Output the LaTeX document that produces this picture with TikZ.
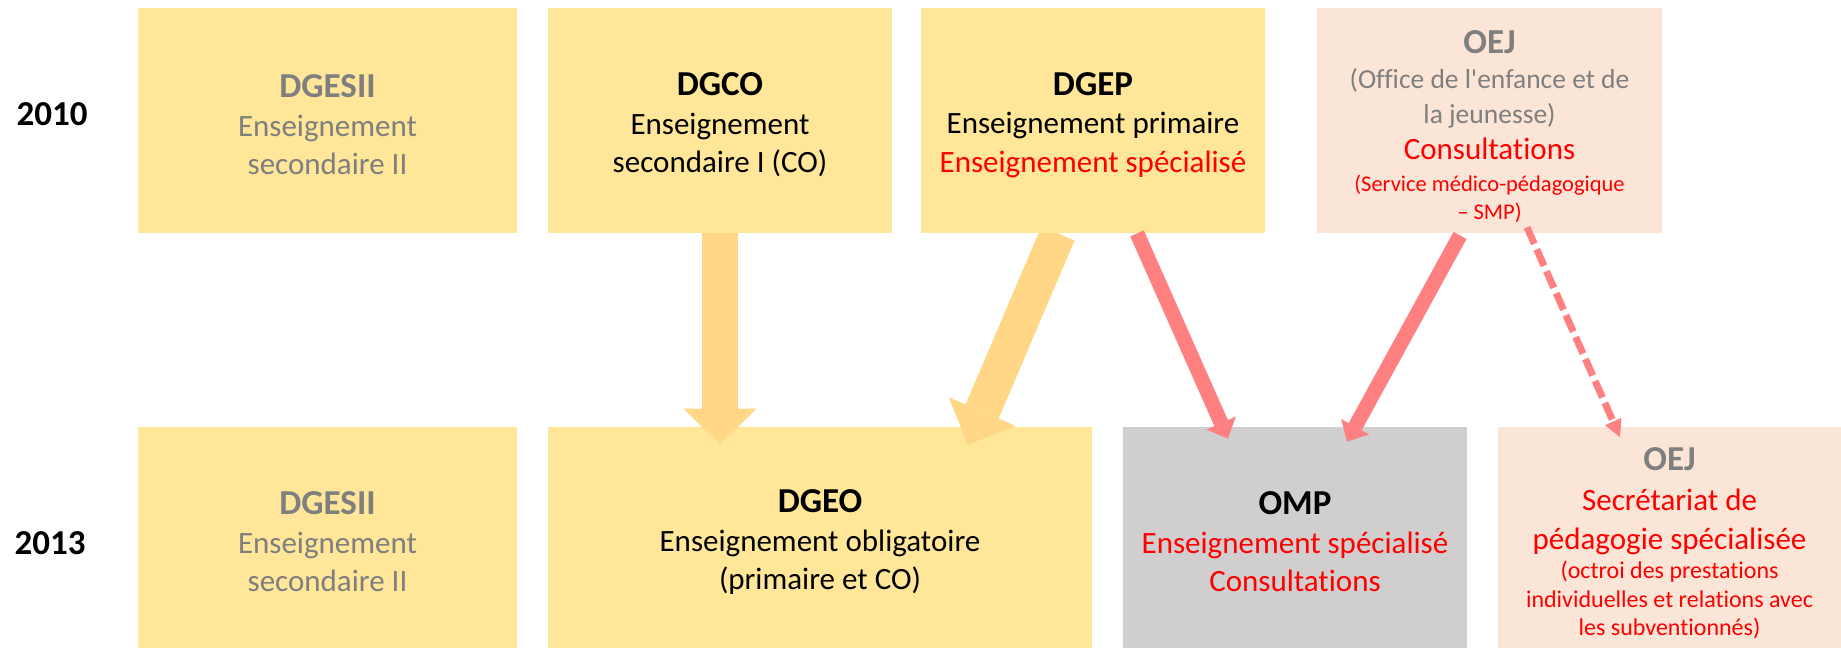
\documentclass[tikz,border=0pt]{standalone}
\usepackage{fontspec}
\setmainfont{Carlito}[Ligatures={TeX,NoCommon}]
\usetikzlibrary{arrows.meta}

\definecolor{boxyellow}{HTML}{FFE699}
\definecolor{boxpeach}{HTML}{FBE5D6}
\definecolor{boxgrey}{HTML}{D0CECE}
\definecolor{txtgrey}{HTML}{7F7F7F}
\definecolor{txtred}{HTML}{FF0000}
\definecolor{arryellow}{HTML}{FFD786}
\definecolor{arrred}{HTML}{FF8080}

\newcommand{\boxhead}{\fontsize{17.5}{20}\selectfont\bfseries\rule{0pt}{16pt}}
\newcommand{\oejhead}{\fontsize{17.5}{20}\selectfont\bfseries\rule{0pt}{17.5pt}}
\newcommand{\oejsub}{\fontsize{13.75}{17}\selectfont}
\newcommand{\boxsmall}{\fontsize{11.25}{14}\selectfont}
\newcommand{\boxnote}{\fontsize{12}{14}\selectfont}

\pgfdeclarelayer{back}
\pgfdeclarelayer{middle}
\pgfsetlayers{back,middle,main}

\begin{document}
\begin{tikzpicture}[x=0.5pt,y=-0.5pt,
  every node/.style={align=center,inner sep=0pt,font=\fontsize{15.5}{19.25}\selectfont},
  orgbox/.style={fill=boxyellow,minimum height=112.5pt},
  orgboxlow/.style={fill=boxyellow,minimum height=110.5pt},
  yearlabel/.style={font=\fontsize{17.5}{20}\selectfont\bfseries}]
  \useasboundingbox (0,0) rectangle (1841,648);

  % 2010
  \node[yearlabel]                                           (Y2010) at (52,114)     {2010};
  \node[orgbox,text=txtgrey,minimum width=189.5pt]           (DGESIIa) at (327.5,120.5) {{\boxhead DGESII}\\Enseignement\\secondaire II};
  \node[orgbox,minimum width=172pt]                          (DGCO) at (720,120.5)   {{\boxhead DGCO}\\Enseignement\\secondaire I (CO)};
  \node[orgbox,minimum width=172pt]                          (DGEP) at (1093,120.5)  {{\boxhead DGEP}\\Enseignement primaire\\\textcolor{txtred}{Enseignement spécialisé}};
  \node[orgbox,fill=boxpeach,text=txtgrey,minimum width=172.5pt] (OEJa) at (1489.5,120.5)
    {{\oejhead OEJ}\\[-1.75pt]
     {\oejsub (Office de l\textquotesingle enfance et de}\\[-1.75pt]
     {\oejsub la jeunesse)}\\[-1.25pt]
     \textcolor{txtred}{Consultations}\\[-3.25pt]
     \textcolor{txtred}{\boxsmall (Service médico-pédagogique}\\[-5.25pt]
     \textcolor{txtred}{\boxsmall – SMP)}};

  % 2013
  \begin{pgfonlayer}{back}
  \node[yearlabel]                                           (Y2013) at (50,543)     {2013};
  \node[orgboxlow,text=txtgrey,minimum width=189.5pt]        (DGESIIb) at (327.5,537.5) {{\boxhead DGESII}\\Enseignement\\secondaire II};
  \node[orgboxlow,minimum width=272pt]                       (DGEO) at (820,537.5)   {{\boxhead DGEO}\\Enseignement obligatoire\\(primaire et CO)};
  \node[orgboxlow,fill=boxgrey,text=txtred,minimum width=172pt] (OMP) at (1295,537.5)
    {\textcolor{black}{\boxhead OMP}\\Enseignement spécialisé\\Consultations};
  \node[orgboxlow,fill=boxpeach,text=txtred,minimum width=171.5pt] (OEJb) at (1669.5,537)
    {\textcolor{txtgrey}{\oejhead OEJ}\\[0.75pt]
     Secrétariat de\\
     pédagogie spécialisée\\[-4.75pt]
     {\boxnote (octroi des prestations}\\[-4.75pt]
     {\boxnote individuelles et relations avec}\\[-5.25pt]
     {\boxnote les subventionnés)}};
  \end{pgfonlayer}

\tikzset{yarrow/.style={draw=arryellow,line width=18pt,-{Triangle[length=18pt,width=36.5pt,line width=0pt]}}}
\tikzset{rarrow/.style={draw=arrred,line width=7.4pt,-{Triangle[length=8.5pt,width=16pt,line width=0pt]}}}
\begin{pgfonlayer}{middle}
\path (DGCO.south)                  edge [yarrow,shorten >=-9pt] (DGCO.south |- DGEO.north)
      ([xshift=-17.5pt]DGEP.south)  edge [yarrow] ([xshift=74pt,yshift=-9pt]DGEO.north);
\end{pgfonlayer}
\path ([xshift=22pt]DGEP.south)               edge [rarrow] ([xshift=-33.5pt,yshift=-6pt]OMP.north)
      ([xshift=-14.75pt,yshift=-1pt]OEJa.south) edge [rarrow] ([xshift=26pt,yshift=-7.5pt]OMP.north)
      ([xshift=18.75pt,yshift=3pt]OEJa.south)  edge [rarrow,line width=3.5pt,dash pattern=on 9pt off 3pt,
                                                     -{Triangle[length=8.5pt,width=9pt,line width=0pt]}]
                                                ([xshift=-24.75pt,yshift=-5.5pt]OEJb.north);
\end{tikzpicture}
\end{document}
